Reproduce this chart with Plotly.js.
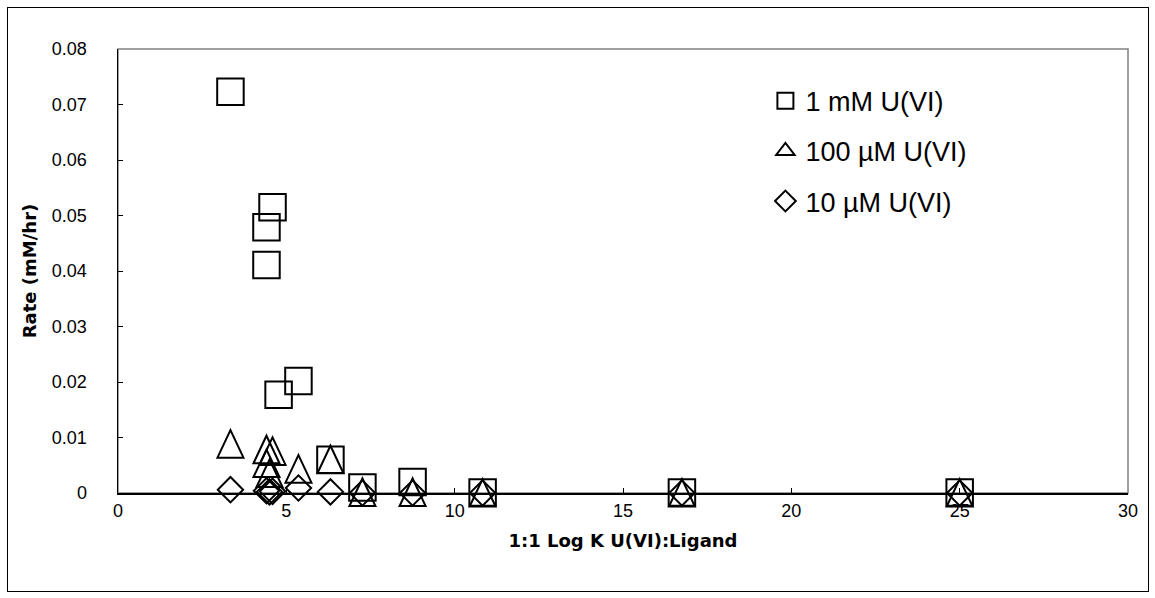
<!DOCTYPE html>
<html>
<head>
<meta charset="utf-8">
<script src="https://cdn.plot.ly/plotly-3.0.1.min.js"></script>
<style>
  html, body { margin: 0; padding: 0; background: #fff; }
  #wrap { position: relative; width: 1155px; height: 598px; }
  #chart { position: absolute; left: 0; top: 0; width: 1155px; height: 598px; }
  #frame { position: absolute; left: 7px; top: 7px; width: 1140px; height: 583px;
           border: 1px solid #000; pointer-events: none; }
</style>
</head>
<body>
<div id="wrap">
  <div id="chart"></div>
  <div id="frame"></div>
</div>
<script>
// Uranium(VI) reduction rate versus the 1:1 U(VI)-ligand stability constant
const seriesNames = ['1 mM U(VI)', '100 µM U(VI)', '10 µM U(VI)'];

const logK_1mM   = [3.34, 4.59, 4.41, 4.41, 4.77, 5.36, 6.31, 7.26, 8.75, 10.83, 16.75, 25.0];
const rate_1mM   = [0.0723, 0.0515, 0.0479, 0.0411, 0.0177, 0.0202, 0.0060, 0.0010, 0.0020, 0.0001, 0.0001, 0.0001];

const logK_100uM = [3.34, 4.41, 4.59, 4.41, 4.50, 5.36, 6.31, 7.26, 8.75, 10.83, 16.75, 25.0];
const rate_100uM = [0.0088, 0.0078, 0.0075, 0.0053, 0.0035, 0.0043, 0.0060, 0.0001, 0.0001, 0, 0, 0];

const logK_10uM  = [3.34, 4.41, 4.50, 4.59, 5.36, 6.31, 7.26, 8.75, 10.83, 16.75, 25.0];
const rate_10uM  = [0.0006, 0.0004, 0.0002, 0.0003, 0.0009, 0.0002, 0, 0, 0, 0, 0];

const xTitle = '1:1 Log K U(VI):Ligand';
const yTitle = 'Rate (mM/hr)';

// ---- geometry ----
const W = 1155, H = 598;
const M = { l: 118, r: 27, t: 49, b: 70 };
const axisLinePx = 493;                       // pixel row of the x axis line
const plotH = H - M.t - M.b;
const yLow = (H - M.b - axisLinePx) / plotH;  // bottom of the main y domain
const yRange = [0, 0.08];
// y2 covers the whole plotting height with the same scale as y,
// so triangles anchored to it are not cut at the x axis line
const y2Min = yRange[1] - (yRange[1] - yRange[0]) / (1 - yLow);

const FONT = 'Liberation Sans, Arial, Helvetica, sans-serif';
const TITLE_FONT = 'DejaVu Sans, Verdana, sans-serif';
const INK = '#000';

// Tall triangle outline (pixel units around the anchor point)
const triPath = 'M -13 -13.5 L 13 -13.5 L 0 14 Z';
const triangleShapes = logK_100uM.map((x, i) => ({
  type: 'path', xref: 'x', yref: 'y2',
  xsizemode: 'pixel', ysizemode: 'pixel',
  xanchor: x, yanchor: rate_100uM[i],
  path: triPath,
  line: { color: INK, width: 2 },
  fillcolor: 'rgba(0,0,0,0)',
  layer: 'above'
}));

// grey outline of the plotting area (top / right edges show)
const areaBorder = {
  type: 'rect', xref: 'x domain', yref: 'y domain',
  x0: 0, x1: 1, y0: 0, y1: 1,
  line: { color: '#808080', width: 1.5 },
  fillcolor: 'rgba(0,0,0,0)', layer: 'below'
};

const traces = [
  {
    type: 'scatter', mode: 'markers', name: seriesNames[0], legendgroup: 'a',
    x: logK_1mM, y: rate_1mM,
    marker: { symbol: 'square-open', size: 26.5, color: INK, line: { width: 2, color: INK } },
    cliponaxis: false, hoverinfo: 'x+y'
  },
  {
    // outline triangles are drawn as shapes; this trace carries the legend entry
    type: 'scatter', mode: 'markers', name: seriesNames[1], legendgroup: 'b',
    x: logK_100uM, y: rate_100uM, xaxis: 'x', yaxis: 'y2',
    marker: { symbol: 'triangle-up-open', size: 16, color: INK, line: { width: 2, color: INK } },
    selectedpoints: [], unselected: { marker: { opacity: 0 } },
    cliponaxis: false, hoverinfo: 'x+y'
  },
  {
    type: 'scatter', mode: 'markers', name: seriesNames[2], legendgroup: 'c',
    x: logK_10uM, y: rate_10uM,
    marker: { symbol: 'diamond-open', size: 19.5, color: INK, line: { width: 2, color: INK } },
    cliponaxis: false, hoverinfo: 'x+y'
  }
];

const layout = {
  width: W, height: H,
  margin: M,
  paper_bgcolor: '#fff', plot_bgcolor: 'rgba(0,0,0,0)',
  font: { family: FONT, color: INK, size: 18 },
  showlegend: true,
  legend: {
    x: 0.641, xanchor: 'left', y: 0.942, yanchor: 'top',
    font: { family: FONT, size: 27, color: INK },
    bgcolor: 'rgba(0,0,0,0)', borderwidth: 0,
    traceorder: 'grouped', tracegroupgap: 12
  },
  xaxis: {
    range: [0, 30], dtick: 5, tick0: 0,
    showgrid: false, zeroline: false,
    showline: true, linecolor: INK, linewidth: 1.5,
    ticks: 'inside', ticklen: 5, tickwidth: 1, tickcolor: INK,
    ticklabelstandoff: 1,
    tickfont: { family: FONT, size: 18, color: INK },
    anchor: 'y',
    title: { text: xTitle, standoff: 14, font: { family: TITLE_FONT, size: 18, weight: 700, color: INK } }
  },
  yaxis: {
    domain: [yLow, 1], range: yRange, dtick: 0.01, tick0: 0,
    showgrid: false, zeroline: false,
    showline: true, linecolor: INK, linewidth: 1.5,
    ticks: 'inside', ticklen: 5, tickwidth: 1, tickcolor: INK,
    ticklabelstandoff: 26,
    tickfont: { family: FONT, size: 18, color: INK },
    anchor: 'x',
    title: { text: yTitle, standoff: 10, font: { family: TITLE_FONT, size: 18, weight: 700, color: INK } }
  },
  yaxis2: {
    domain: [0, 1], range: [y2Min, yRange[1]],
    visible: false, anchor: 'x', fixedrange: true
  },
  shapes: [areaBorder].concat(triangleShapes)
};

Plotly.newPlot('chart', traces, layout, { displayModeBar: false, staticPlot: true });
</script>
</body>
</html>
